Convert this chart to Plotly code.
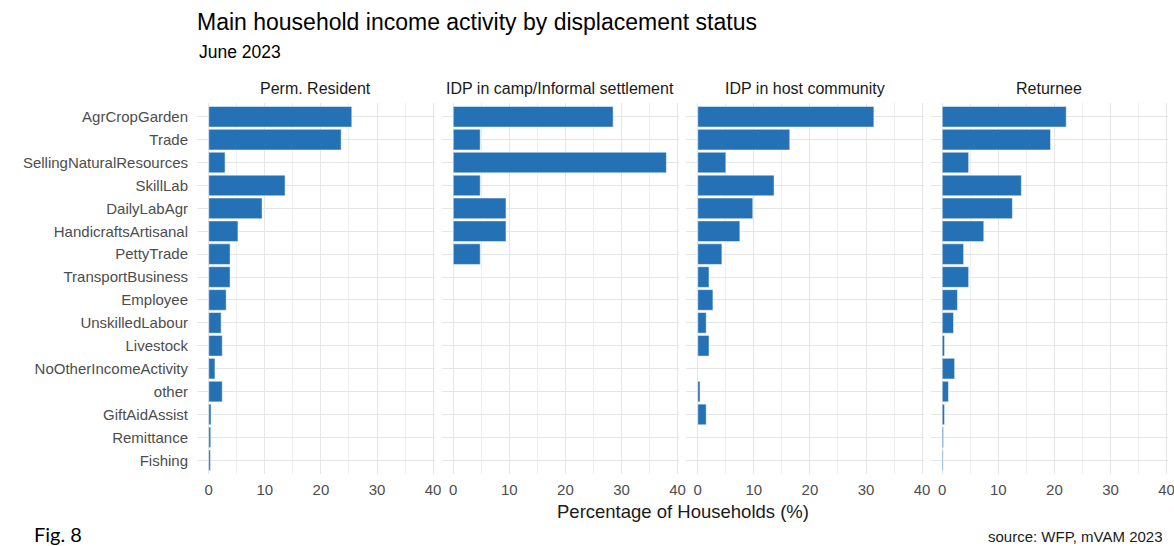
import plotly.graph_objects as go

categories = ["AgrCropGarden", "Trade", "SellingNaturalResources", "SkillLab", "DailyLabAgr",
              "HandicraftsArtisanal", "PettyTrade", "TransportBusiness", "Employee",
              "UnskilledLabour", "Livestock", "NoOtherIncomeActivity", "other",
              "GiftAidAssist", "Remittance", "Fishing"]
panels = ["Perm. Resident", "IDP in camp/Informal settlement", "IDP in host community", "Returnee"]

perm_resident = [25.5, 23.6, 2.9, 13.6, 9.5, 5.2, 3.8, 3.8, 3.1, 2.2, 2.4, 1.1, 2.4, 0.4, 0.35, 0.3]
idp_camp = [28.5, 4.8, 38.0, 4.8, 9.4, 9.4, 4.8, None, None, None, None, None, None, None, None, None]
idp_host = [31.4, 16.4, 5.0, 13.6, 9.8, 7.5, 4.3, 2.0, 2.7, 1.5, 2.0, None, 0.4, 1.5, None, None]
returnee = [22.1, 19.3, 4.7, 14.1, 12.5, 7.4, 3.8, 4.7, 2.7, 2.0, 0.4, 2.2, 1.1, 0.4, 0.2, 0.15]
series = [perm_resident, idp_camp, idp_host, returnee]
x_ticks = [0, 10, 20, 30, 40]

BAR = "rgb(36,113,181)"
GRID = "#e6e6e6"
MINOR = "#eeeeee"
FONT = "Liberation Sans, Arial, sans-serif"

W, H = 1174, 546
L, R = 197, 6
T, B = 103, 71.5
pw = W - L - R
starts = [197, 441.5, 686, 930.5]
panel_w = 237.5

fig = go.Figure()
for i, (name, vals) in enumerate(zip(panels, series)):
    sfx = "" if i == 0 else str(i + 1)
    fig.add_trace(go.Bar(
        x=vals, y=categories, orientation="h",
        xaxis="x" + sfx, yaxis="y" + sfx,
        width=0.9,
        marker=dict(color=BAR, line=dict(color="rgba(255,255,255,0.8)", width=0.6)),
        showlegend=False, name=name,
    ))
    d0 = (starts[i] - L) / pw
    d1 = (starts[i] + panel_w - L) / pw
    fig.update_layout(**{
        "xaxis" + sfx: dict(
            domain=[d0, min(d1, 1)], anchor="y" + sfx, range=[-2.1, 40.25],
            tickvals=x_ticks, ticktext=[str(t) for t in x_ticks],
            showgrid=True, gridcolor=GRID, gridwidth=1, zeroline=False,
            showline=False, ticks="", automargin=False,
            ticklabeloverflow="allow",
            tickfont=dict(family=FONT, size=15, color="#4d4d4d"),
            ticklabelstandoff=5,
            minor=dict(dtick=5, tick0=0, showgrid=True, gridcolor=MINOR, gridwidth=1),
            fixedrange=True,
        ),
        "yaxis" + sfx: dict(
            anchor="x" + sfx, type="category",
            categoryorder="array", categoryarray=categories,
            range=[len(categories) - 0.4, -0.6],
            showgrid=True, gridcolor=GRID, gridwidth=1, zeroline=False,
            showline=False, ticks="", automargin=False,
            showticklabels=(i == 0),
            tickfont=dict(family=FONT, size=15, color="#4d4d4d"),
            ticklabelstandoff=8,
            fixedrange=True,
        ),
    })
    fig.add_annotation(
        text=name, xref="paper", yref="paper",
        x=(d0 + d1) / 2, y=1, yshift=15, xanchor="center", yanchor="middle",
        showarrow=False, font=dict(family=FONT, size=16, color="#1a1a1a"),
    )

fig.add_annotation(
    text="Percentage of Households (%)", xref="paper", yref="paper",
    x=0.5, y=0, yshift=-(512 - (H - B)), xanchor="center", yanchor="middle",
    showarrow=False, font=dict(family=FONT, size=18.5, color="#1a1a1a"),
)
fig.add_annotation(
    text="June 2023", xref="paper", yref="paper",
    x=0, y=1, xshift=0, yshift=(T - 52), xanchor="left", yanchor="middle",
    showarrow=False, font=dict(family=FONT, size=17.5, color="#000000"),
)
fig.add_annotation(
    text="Fig. 8", xref="paper", yref="paper",
    x=0, y=0, xshift=-(L - 32), yshift=-(534 - (H - B)), xanchor="left", yanchor="middle",
    showarrow=False, font=dict(family="Lato, Open Sans, sans-serif", size=20, color="#000000"),
)
fig.add_annotation(
    text="source: WFP, mVAM 2023", xref="paper", yref="paper",
    x=1, y=0, xshift=-3, yshift=-(537 - (H - B)), xanchor="right", yanchor="middle",
    showarrow=False, font=dict(family=FONT, size=15, color="#1a1a1a"),
)

fig.update_layout(
    width=W, height=H,
    margin=dict(l=L, r=R, t=T, b=B, pad=0, autoexpand=False),
    paper_bgcolor="white", plot_bgcolor="white",
    bargap=0.1,
    title=dict(
        text="Main household income activity by displacement status",
        x=L / W, xanchor="left", y=1 - 22 / H, yanchor="middle", yref="container",
        font=dict(family=FONT, size=23, color="#000000"),
    ),
    font=dict(family=FONT),
)

fig.write_html(
    "out.html",
    config={"displayModeBar": False},
    post_script="document.body.style.margin='0';document.body.style.overflow='hidden';",
)
